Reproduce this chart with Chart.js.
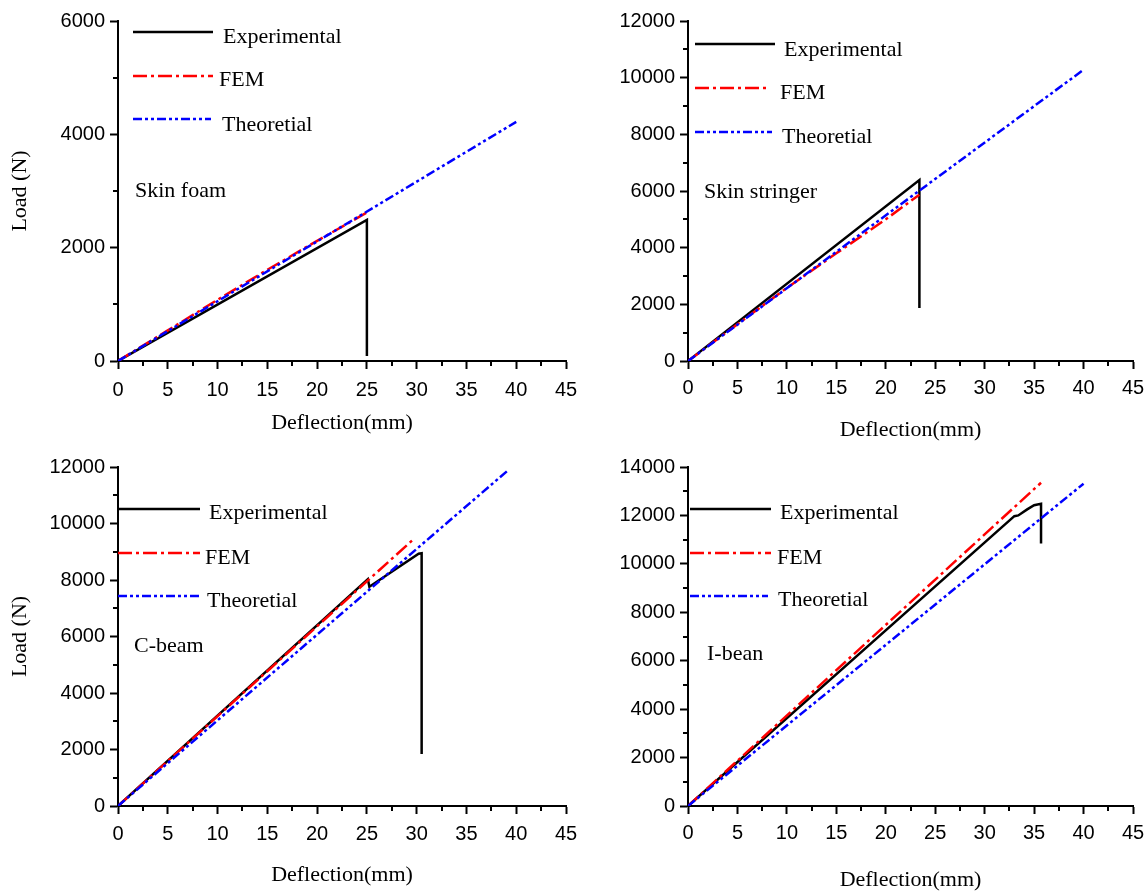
<!DOCTYPE html>
<html>
<head>
<meta charset="utf-8">
<script src="https://cdn.jsdelivr.net/npm/chart.js@4.4.1/dist/chart.umd.min.js"></script>
<style>
  html, body { margin: 0; padding: 0; background: #fff; }
  #page { position: relative; width: 1148px; height: 891px; overflow: hidden; }
  .panel { position: absolute; }
</style>
</head>
<body>
<div id="page">
  <div class="panel" style="left:0;top:0"><canvas id="foam" width="580" height="445"></canvas></div>
  <div class="panel" style="left:580px;top:0"><canvas id="stringer" width="568" height="445"></canvas></div>
  <div class="panel" style="left:0;top:445px"><canvas id="cbeam" width="580" height="446"></canvas></div>
  <div class="panel" style="left:580px;top:445px"><canvas id="ibeam" width="568" height="446"></canvas></div>
</div>
<script>
// shared axis ticks
const xTicks = [0, 5, 10, 15, 20, 25, 30, 35, 40, 45];
const xMinor = [2.5, 7.5, 12.5, 17.5, 22.5, 27.5, 32.5, 37.5, 42.5];
const seriesLabels = ['Experimental', 'FEM', 'Theoretial'];

// Skin foam
const foamYTicks = [0, 2000, 4000, 6000];
const foamYMinor = [1000, 3000, 5000];
const foamExpX = [0, 25, 25];
const foamExpY = [0, 2490, 90];
const foamFemX = [0, 5, 10, 15, 20, 25];
const foamFemY = [0, 540, 1080, 1610, 2120, 2620];
const foamTheoX = [0, 40];
const foamTheoY = [0, 4220];

// Skin stringer
const stringerYTicks = [0, 2000, 4000, 6000, 8000, 10000, 12000];
const stringerYMinor = [1000, 3000, 5000, 7000, 9000, 11000];
const stringerExpX = [0, 23.4, 23.4];
const stringerExpY = [0, 6390, 1870];
const stringerFemX = [0, 5, 10, 15, 20, 23.4];
const stringerFemY = [0, 1300, 2580, 3800, 5000, 5870];
const stringerTheoX = [0, 40];
const stringerTheoY = [0, 10280];

// C-beam
const cbeamYTicks = [0, 2000, 4000, 6000, 8000, 10000, 12000];
const cbeamYMinor = [1000, 3000, 5000, 7000, 9000, 11000];
const cbeamExpX = [0, 25.1, 25.25, 30.2, 30.5, 30.5];
const cbeamExpY = [0, 8030, 7760, 8930, 8950, 1840];
const cbeamFemX = [0, 29.8];
const cbeamFemY = [0, 9480];
const cbeamTheoX = [0, 39.2];
const cbeamTheoY = [0, 11890];

// I-bean
const ibeamYTicks = [0, 2000, 4000, 6000, 8000, 10000, 12000, 14000];
const ibeamYMinor = [1000, 3000, 5000, 7000, 9000, 11000, 13000];
const ibeamExpX = [0, 33.0, 33.4, 34.3, 35.0, 35.7, 35.7];
const ibeamExpY = [0, 11970, 12000, 12250, 12420, 12480, 10840];
const ibeamFemX = [0, 35.7];
const ibeamFemY = [0, 13350];
const ibeamTheoX = [0, 40];
const ibeamTheoY = [0, 13310];

const styles = [
  { color: '#000000', dash: [] },
  { color: '#ff0000', dash: [14, 4, 3, 4] },
  { color: '#0000ff', dash: [9, 3, 3, 3, 3, 3] }
];

function pts(xs, ys) {
  return xs.map((x, i) => ({ x: x, y: ys[i] }));
}

// minor ticks, legend and panel name
const decorPlugin = {
  id: 'panelDecor',
  afterDraw(chart, args, o) {
    const ctx = chart.ctx;
    const x = chart.scales.x, y = chart.scales.y;
    ctx.save();
    ctx.strokeStyle = '#000';
    ctx.lineWidth = 2;
    xMinor.forEach(v => {
      const px = Math.round(x.getPixelForValue(v));
      ctx.beginPath(); ctx.moveTo(px, y.bottom); ctx.lineTo(px, y.bottom + 5); ctx.stroke();
    });
    o.yMinor.forEach(v => {
      const py = Math.round(y.getPixelForValue(v));
      ctx.beginPath(); ctx.moveTo(x.left, py); ctx.lineTo(x.left - 5, py); ctx.stroke();
    });

    ctx.font = '22px "Liberation Serif", "Times New Roman", serif';
    ctx.textBaseline = 'middle';
    ctx.fillStyle = '#000';
    seriesLabels.forEach((label, i) => {
      ctx.strokeStyle = styles[i].color;
      ctx.setLineDash(styles[i].dash);
      ctx.lineWidth = 2.5;
      ctx.beginPath();
      ctx.moveTo(o.lineX0, o.lineY[i]);
      ctx.lineTo(o.lineX1[i], o.lineY[i]);
      ctx.stroke();
      ctx.setLineDash([]);
      ctx.fillText(label, o.textX[i], o.textY[i]);
    });
    ctx.fillText(o.name, o.nameX, o.nameY);
    ctx.restore();
  }
};

function makePanel(id, p) {
  const data = [p.exp, p.fem, p.theo];
  return new Chart(document.getElementById(id), {
    type: 'scatter',
    data: {
      datasets: data.map((d, i) => ({
        label: seriesLabels[i],
        data: pts(d[0], d[1]),
        showLine: true,
        borderColor: styles[i].color,
        borderDash: styles[i].dash,
        borderWidth: 2.5,
        pointRadius: 0,
        tension: 0,
        order: 3 - i
      }))
    },
    options: {
      responsive: false,
      animation: false,
      events: [],
      layout: { padding: { top: p.top, right: p.right, left: 0, bottom: 0 } },
      plugins: {
        legend: { display: false },
        tooltip: { enabled: false },
        panelDecor: p.decor
      },
      scales: {
        x: {
          type: 'linear', min: 0, max: 45,
          afterBuildTicks: s => { s.ticks = xTicks.map(v => ({ value: v })); },
          afterFit: s => { s.height = p.xHeight; s.paddingLeft = 0; s.paddingRight = 0; },
          border: { display: true, color: '#000', width: 2 },
          grid: { drawOnChartArea: false, drawTicks: true, tickLength: 8, tickWidth: 2, tickColor: '#000' },
          ticks: {
            color: '#000', font: { family: 'Liberation Sans', size: 20 }, padding: p.xTickPad,
            maxRotation: 0, autoSkip: false, callback: v => String(v)
          },
          title: {
            display: true, text: 'Deflection(mm)', color: '#000',
            font: { family: 'Liberation Serif', size: 22, lineHeight: 1 },
            padding: { top: 0, bottom: p.xTitlePad }
          }
        },
        y: {
          type: 'linear', min: 0, max: p.yMax,
          afterBuildTicks: s => { s.ticks = p.yTicks.map(v => ({ value: v })); },
          afterFit: s => { s.width = p.yWidth; s.paddingTop = 0; s.paddingBottom = 0; },
          border: { display: true, color: '#000', width: 2 },
          grid: { drawOnChartArea: false, drawTicks: true, tickLength: 8, tickWidth: 2, tickColor: '#000' },
          ticks: {
            color: '#000', font: { family: 'Liberation Sans', size: 20 }, padding: 5,
            autoSkip: false, callback: v => String(v)
          },
          title: {
            display: p.yTitle, text: 'Load (N)', color: '#000',
            font: { family: 'Liberation Serif', size: 22, lineHeight: 1 },
            padding: { top: 9, bottom: 0 }
          }
        }
      }
    },
    plugins: [decorPlugin]
  });
}

makePanel('foam', {
  exp: [foamExpX, foamExpY], fem: [foamFemX, foamFemY], theo: [foamTheoX, foamTheoY],
  yMax: 6000, yTicks: foamYTicks, yTitle: true,
  top: 21, right: 14, yWidth: 118, xHeight: 84, xTickPad: 9, xTitlePad: 11,
  decor: {
    yMinor: foamYMinor, name: 'Skin foam', nameX: 135, nameY: 191,
    lineX0: 133, lineX1: [213, 213, 211], lineY: [32, 76, 119],
    textX: [223, 219, 222], textY: [37, 80, 125]
  }
});

makePanel('stringer', {
  exp: [stringerExpX, stringerExpY], fem: [stringerFemX, stringerFemY], theo: [stringerTheoX, stringerTheoY],
  yMax: 12000, yTicks: stringerYTicks, yTitle: false,
  top: 21, right: 15, yWidth: 108, xHeight: 84, xTickPad: 7, xTitlePad: 4,
  decor: {
    yMinor: stringerYMinor, name: 'Skin stringer', nameX: 124, nameY: 192,
    lineX0: 115, lineX1: [195, 190, 192], lineY: [44, 88, 132],
    textX: [204, 200, 202], textY: [50, 93, 137]
  }
});

makePanel('cbeam', {
  exp: [cbeamExpX, cbeamExpY], fem: [cbeamFemX, cbeamFemY], theo: [cbeamTheoX, cbeamTheoY],
  yMax: 12000, yTicks: cbeamYTicks, yTitle: true,
  top: 22, right: 14, yWidth: 118, xHeight: 85, xTickPad: 8, xTitlePad: 5,
  decor: {
    yMinor: cbeamYMinor, name: 'C-beam', nameX: 134, nameY: 201,
    lineX0: 118, lineX1: [200, 200, 200], lineY: [64, 108, 151],
    textX: [209, 205, 207], textY: [68, 113, 156]
  }
});

makePanel('ibeam', {
  exp: [ibeamExpX, ibeamExpY], fem: [ibeamFemX, ibeamFemY], theo: [ibeamTheoX, ibeamTheoY],
  yMax: 14000, yTicks: ibeamYTicks, yTitle: false,
  top: 22, right: 15, yWidth: 108, xHeight: 85, xTickPad: 7, xTitlePad: 0,
  decor: {
    yMinor: ibeamYMinor, name: 'I-bean', nameX: 127, nameY: 209,
    lineX0: 110, lineX1: [191, 191, 188], lineY: [64, 108, 151],
    textX: [200, 197, 198], textY: [68, 113, 155]
  }
});
</script>
</body>
</html>
